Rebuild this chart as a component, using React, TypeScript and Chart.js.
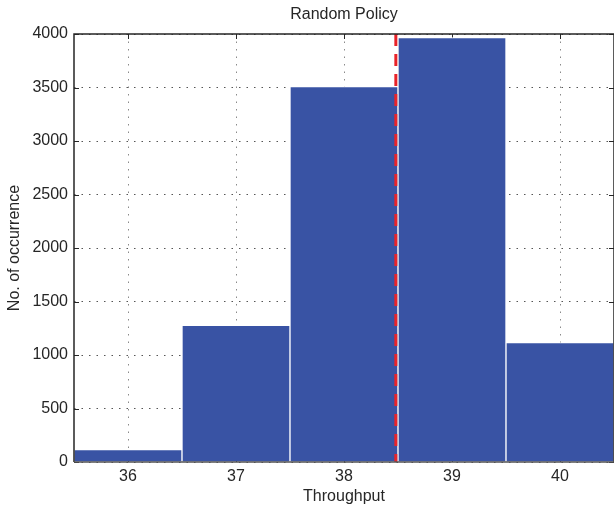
import React, { useEffect, useRef } from "react";
import { Chart, registerables } from "chart.js";

Chart.register(...registerables);

const binCenters = [36, 37, 38, 39, 40];
const counts = [115, 1277, 3508, 3966, 1115];
const xTickValues = [36, 37, 38, 39, 40];
const yTickValues = [0, 500, 1000, 1500, 2000, 2500, 3000, 3500, 4000];
const meanLineX = 38.48;
const meanLineY = [4000, 0];
const titleText = "Random Policy";
const xLabel = "Throughput";
const yLabel = "No. of occurrence";

const FONT = "'Liberation Sans', Arial, Helvetica, sans-serif";
const TEXT = "#262626";

const framePlugin = {
  id: "matlabFrame",
  beforeDatasetsDraw(chart: any) {
    const { ctx, chartArea, scales } = chart;
    const { left, right, top, bottom } = chartArea;
    ctx.save();
    ctx.strokeStyle = TEXT;
    ctx.lineWidth = 1;
    ctx.beginPath();
    xTickValues.forEach((v) => {
      const px = Math.round(scales.x.getPixelForValue(v)) + 0.5;
      ctx.moveTo(px, top);
      ctx.lineTo(px, top + 5);
      ctx.moveTo(px, bottom);
      ctx.lineTo(px, bottom - 5);
    });
    yTickValues.forEach((v) => {
      const py = Math.round(scales.y.getPixelForValue(v)) + 0.5;
      ctx.moveTo(left, py);
      ctx.lineTo(left + 5, py);
      ctx.moveTo(right, py);
      ctx.lineTo(right - 5, py);
    });
    ctx.stroke();
    ctx.restore();
  },
  afterDatasetsDraw(chart: any) {
    const { ctx, chartArea } = chart;
    const { left, right, top, bottom } = chartArea;
    ctx.save();
    ctx.strokeStyle = TEXT;
    ctx.lineWidth = 1.5;
    ctx.beginPath();
    ctx.moveTo(left, bottom);
    ctx.lineTo(left, top);
    ctx.lineTo(right, top);
    ctx.lineTo(right, bottom);
    ctx.stroke();
    ctx.strokeStyle = "#555555";
    ctx.beginPath();
    ctx.moveTo(left, bottom);
    ctx.lineTo(right, bottom);
    ctx.stroke();
    ctx.restore();
  },
};

export default function App() {
  const ref = useRef<HTMLCanvasElement | null>(null);

  useEffect(() => {
    if (!ref.current) return;
    const chart = new Chart(ref.current, {
      type: "bar",
      data: {
        datasets: [
          {
            type: "line",
            label: "mean",
            data: meanLineY.map((y) => ({ x: meanLineX, y })),
            borderColor: "#E8232A",
            borderWidth: 3,
            borderDash: [12, 8],
            borderCapStyle: "butt",
            pointRadius: 0,
            fill: false,
            order: 0,
          } as any,
          {
            type: "bar",
            label: "counts",
            data: binCenters.map((x, i) => ({ x, y: counts[i] })),
            backgroundColor: "#3953A4",
            borderColor: "#FFFFFF",
            borderWidth: 1,
            borderSkipped: "bottom",
            barPercentage: 1,
            categoryPercentage: 1,
            order: 1,
          } as any,
        ],
      },
      options: {
        responsive: false,
        animation: false,
        layout: { padding: 0 },
        plugins: {
          legend: { display: false },
          tooltip: { enabled: false },
          title: {
            display: true,
            fullSize: false,
            text: titleText,
            color: TEXT,
            font: { family: FONT, size: 16, weight: "normal" },
            padding: { top: 5.4, bottom: 9.4 },
          },
        },
        scales: {
          x: {
            type: "linear",
            min: 35.5,
            max: 40.5,
            offset: false,
            afterBuildTicks: (scale: any) => {
              scale.ticks = xTickValues.map((v) => ({ value: v }));
            },
            afterFit: (scale: any) => {
              scale.height = 44;
            },
            ticks: {
              color: TEXT,
              font: { family: FONT, size: 16 },
              padding: 5,
              maxRotation: 0,
              autoSkip: false,
              callback: (v: any) => String(v),
            },
            grid: {
              color: "#8a8a8a",
              lineWidth: 1,
              drawTicks: false,
              offset: false,
            },
            border: { display: false, dash: [1.5, 6] },
            title: {
              display: true,
              text: xLabel,
              color: TEXT,
              font: { family: FONT, size: 16 },
              padding: { top: 0, bottom: 0 },
            },
          },
          y: {
            type: "linear",
            min: 0,
            max: 4000,
            afterBuildTicks: (scale: any) => {
              scale.ticks = yTickValues.map((v) => ({ value: v }));
            },
            afterFit: (scale: any) => {
              scale.width = 74;
            },
            ticks: {
              color: TEXT,
              font: { family: FONT, size: 16 },
              padding: 6,
              autoSkip: false,
              callback: (v: any) => String(v),
            },
            grid: {
              color: "#555555",
              lineWidth: 1,
              drawTicks: false,
            },
            border: { display: false, dash: [1.5, 6] },
            title: {
              display: true,
              text: yLabel,
              color: TEXT,
              font: { family: FONT, size: 16 },
              padding: { top: 5, bottom: 0 },
            },
          },
        },
      },
      plugins: [framePlugin],
    } as any);
    return () => chart.destroy();
  }, []);

  return (
    <div style={{ position: "fixed", left: 0, top: 0, width: 614, height: 506, background: "#fff" }}>
      <canvas ref={ref} width={614} height={506} style={{ display: "block" }} />
    </div>
  );
}
